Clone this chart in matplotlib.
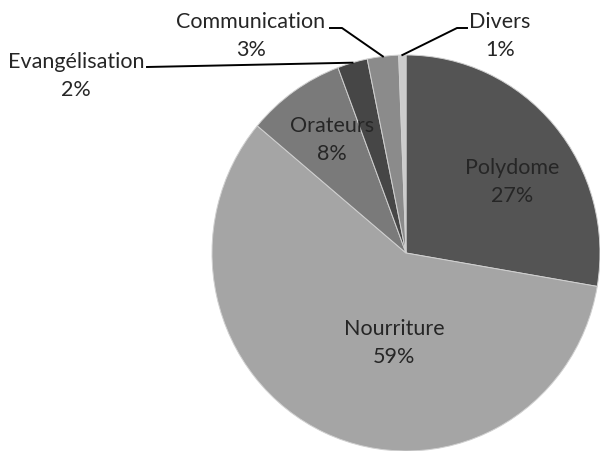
import numpy as np
import matplotlib.pyplot as plt

labels = ['Polydome', 'Nourriture', 'Orateurs', 'Evangélisation', 'Communication', 'Divers']
values = [27.7, 58.4, 8.2, 2.5, 2.6, 0.6]
pct_text = ['27%', '59%', '8%', '2%', '3%', '1%']
colors = ['#545454', '#a5a5a5', '#7a7a7a', '#464646', '#8b8b8b', '#cccccc']

plt.rcParams['font.family'] = ['Lato', 'DejaVu Sans']

W, H = 600, 452
cx, cy = 406, 254   # pie centre in pixels
rx, ry = 194, 198   # the pie is a bit squashed sideways


def px(x, y):
    # pixel coords (from top left) -> data coords
    return (x - cx) / rx, (cy - y) / ry


fig = plt.figure(figsize=(6, 4.52), dpi=100)
ax = fig.add_axes([0, 0, 1, 1])

wedges, _ = ax.pie(values, colors=colors, startangle=90, counterclock=False,
                   radius=1, center=(0, 0),
                   wedgeprops=dict(edgecolor='#d0d0d0', linewidth=0.7))
ax.set_xlim(-cx / rx, (W - cx) / rx)
ax.set_ylim(-(H - cy) / ry, cy / ry)
ax.set_aspect('auto')
ax.axis('off')

fs = 15.5
# labels inside the slices
inside = {0: (512, 182), 1: (394, 343), 2: (332, 140)}
for i, (x, y) in inside.items():
    ax.text(*px(x, y), labels[i] + '\n' + pct_text[i], ha='center', va='center',
            fontsize=fs, color='#262626', linespacing=1.5)

# labels outside, with leader lines to the slice middle
outside = {
    3: ((76, 76), [(147, 68)]),
    4: ((251, 36), [(330, 29), (342, 29)]),
    5: ((500, 36), [(467, 29), (457, 29)]),
}
for i, ((x, y), pts) in outside.items():
    ax.text(*px(x, y), labels[i] + '\n' + pct_text[i], ha='center', va='center',
            fontsize=fs, color='#262626', linespacing=1.5)
    w = wedges[i]
    mid = np.deg2rad((w.theta1 + w.theta2) / 2)
    end = (np.cos(mid), np.sin(mid))
    line = [px(a, b) for a, b in pts] + [end]
    ax.plot([p[0] for p in line], [p[1] for p in line], color='black', lw=1.4)

fig.savefig('out.png', dpi=100)
